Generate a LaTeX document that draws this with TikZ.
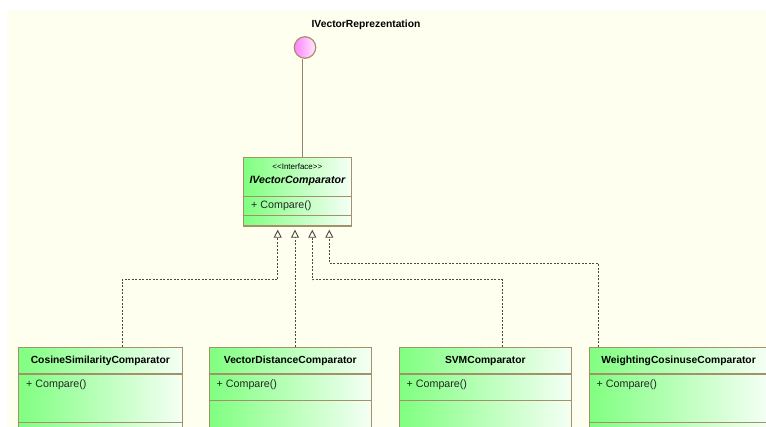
\documentclass[tikz,border=0pt]{standalone}
\usepackage{fontspec}
\setmainfont{Liberation Sans}
\usetikzlibrary{arrows.meta,calc,positioning}
\definecolor{bgcream}{RGB}{255,255,240}
\definecolor{kgreen}{RGB}{128,255,128}
\definecolor{kwhite}{RGB}{245,255,245}
\definecolor{kborder}{RGB}{165,145,105}
\definecolor{kline}{RGB}{80,70,60}
\definecolor{kstick}{RGB}{145,130,108}
\definecolor{kpink}{RGB}{255,128,255}
\definecolor{kpinkw}{RGB}{255,235,255}
\begin{document}
\begin{tikzpicture}[x=1pt,y=-1pt,
	klass/.style={draw=kborder,line width=1.2pt,left color=kgreen,right color=kwhite,inner sep=0,anchor=north west},
	kname/.style={font=\fontsize{10.3}{12}\selectfont\bfseries,inner sep=0},
	kop/.style={font=\fontsize{10.7}{12}\selectfont,text=black!85,inner sep=0,anchor=west},
	ksep/.style={draw=kborder,line width=1.2pt},
	dep/.style={kline,line width=0.9pt,dash pattern=on 2pt off 1.5pt,-{Triangle[open,fill=white,length=8pt,width=8pt]}}]
	\useasboundingbox (0,0) rectangle (766,427);
	\clip (0,0) rectangle (766,427);
	\fill[white] (0,0) rectangle (766,427);
	\fill[bgcream] (7,10) rectangle (766,427);
	
	\node[circle,draw=kborder,line width=1.2pt,left color=kpink,right color=kpinkw,minimum size=21.5,inner sep=0] (ivr) at (305,47.5) {};
	\node[kname] (ivr-l) at (366,25) {IVectorReprezentation};
	
	\node[klass,minimum width=107.5,minimum height=68.5] (ivc) at (243,157) {};
	\node[font=\fontsize{8}{9}\selectfont,inner sep=0] (ivc-s) at ($(ivc.north)+(0,10)$) {<\kern0pt<Interface>\kern0pt>};
	\node[font=\fontsize{10.6}{12}\selectfont\bfseries\itshape,inner sep=0] (ivc-t) at ($(ivc.north)+(0,24)$) {IVectorComparator};
	\draw[ksep] ($(ivc.north west)+(0,39.5)$) -- ($(ivc.north east)+(0,39.5)$);
	\node[kop] (ivc-o) at ($(ivc.north west)+(8,49)$) {+ Compare()};
	\draw[ksep] ($(ivc.north west)+(0,58.5)$) -- ($(ivc.north east)+(0,58.5)$);
	
	\draw[kstick,line width=1pt] ($(ivr.south)+(-3,0)$) coordinate (l0) -- (l0 |- ivc.north);
	
	\foreach \x/\w/\n/\h/\t in {18/163.5/csc/48.3/CosineSimilarityComparator,208.5/162.5/vdc/26.7/VectorDistanceComparator,398.5/172.5/svm/26.7/SVMComparator,588.5/179/wcc/48.3/WeightingCosinuseComparator}
	{
	\node[klass,minimum width=\w,minimum height=100] (\n) at (\x,347) {};
	\node[kname] (\n-t) at ($(\n.north)+(0,13.5)$) {\t};
	\draw[ksep] ($(\n.north west)+(0,27)$) -- ($(\n.north east)+(0,27)$);
	\node[kop] (\n-o) at ($(\n.north west)+(8,37.3)$) {+ Compare()};
	\draw[ksep] ($(\n.north west)+(0,27+\h)$) -- ($(\n.north east)+(0,27+\h)$);
	}
	
	\foreach \i/\d in {1/34.7,2/52,3/69.3,4/86.3}
	\coordinate (t\i) at ($(ivc.south west)+(\d,3)$);
	
	\draw[dep] ($(csc.north west)+(104,0)$) |- ($(t1)+(0,50)$) -- (t1);
	\draw[dep] (t2 |- vdc.north) -- (t2);
	\draw[dep] ($(svm.north west)+(104,0)$) |- ($(t3)+(0,50)$) -- (t3);
	\draw[dep] ($(wcc.north west)+(9.5,0)$) |- ($(t4)+(0,33.7)$) -- (t4);
\end{tikzpicture}
\end{document}
